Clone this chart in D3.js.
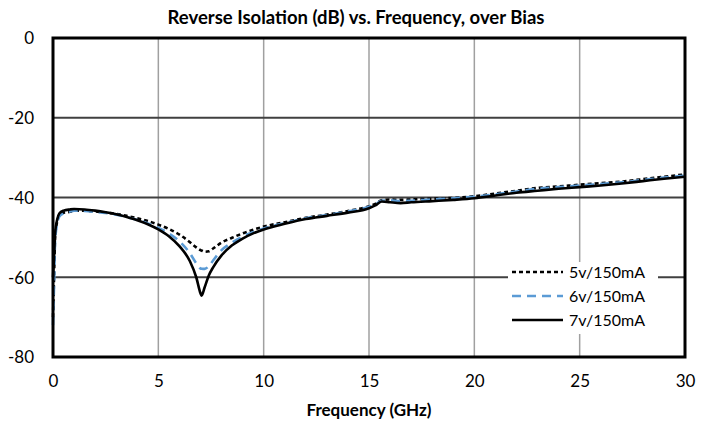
<!DOCTYPE html>
<html><head><meta charset="utf-8">
<script src="https://cdn.jsdelivr.net/npm/d3@7"></script>
<style>body{margin:0;background:#fff}svg{display:block;font-family:Lato,"Open Sans",sans-serif}</style>
</head><body><svg id="c" width="711" height="426"></svg>
<script>
const title = "Reverse Isolation (dB) vs. Frequency, over Bias";
const xTitle = "Frequency (GHz)";
const xTicks = [0,5,10,15,20,25,30];
const yTicks = [0,-20,-40,-60,-80];
const seriesNames = ["5v/150mA","6v/150mA","7v/150mA"];
const freq = [0,0.05,0.1,0.2,0.3,0.5,0.8,1,1.5,2,2.5,3,3.5,4,4.5,5,5.5,6,6.5,6.8,7,7.05,7.2,7.4,7.6,8,8.5,9,9.5,10,11,12,13,14,15,15.3,15.6,16,16.5,17,18,19,20,21,22,23,24,25,26,27,28,29,30];
const s5v = [-70,-60,-50,-46,-44.5,-43.8,-43.6,-43.3,-43.3,-43.5,-43.8,-44.1,-44.6,-45.2,-45.9,-46.8,-47.9,-49.3,-51.2,-52.5,-53.2,-53.3,-53.6,-53.5,-52.8,-51.3,-50.1,-49.0,-48.1,-47.3,-46.2,-45.1,-44.3,-43.4,-42.2,-41.6,-40.7,-40.5,-40.6,-40.5,-40.3,-40.1,-39.7,-39.0,-38.3,-37.6,-37.2,-36.8,-36.4,-36.0,-35.4,-34.8,-34.2];
const s6v = [-72,-62,-51,-46.5,-44.8,-44.0,-43.5,-43.3,-43.4,-43.6,-43.9,-44.3,-44.9,-45.6,-46.5,-47.6,-49.0,-51.0,-54.0,-56.5,-57.8,-57.85,-57.9,-57.2,-55.8,-53.2,-51.3,-49.8,-48.7,-47.8,-46.4,-45.2,-44.4,-43.5,-42.3,-41.7,-40.8,-40.7,-40.9,-40.8,-40.5,-40.2,-39.8,-39.2,-38.5,-37.8,-37.4,-37.0,-36.6,-36.2,-35.6,-35.0,-34.5];
const s7v = [-60,-55,-49,-45.5,-44.0,-43.3,-43.0,-42.9,-43.0,-43.3,-43.7,-44.2,-44.9,-45.7,-46.7,-48.0,-49.7,-52.2,-56.0,-60.0,-64.0,-64.6,-62.5,-59.5,-57.5,-54.5,-52.0,-50.3,-49.0,-48.0,-46.6,-45.4,-44.6,-43.8,-42.7,-42.0,-41.0,-41.2,-41.4,-41.2,-40.9,-40.6,-40.2,-39.5,-38.8,-38.3,-37.8,-37.4,-37.0,-36.5,-35.9,-35.3,-34.8];

const styles = [
  {color:"#000", dash:"4,3", w:2.6},
  {color:"#5B9BD5", dash:"9,6", w:2.6},
  {color:"#000", dash:null, w:2.6}
];
const seriesData = [s5v,s6v,s7v];

const svg = d3.select("#c");
const L=53, R=685, T=38, B=357;
const x = d3.scaleLinear().domain([0,30]).range([L,R]);
const y = d3.scaleLinear().domain([-80,0]).range([B,T]);

svg.append("g").selectAll("line").data(xTicks.slice(1,-1)).join("line")
  .attr("x1",d=>x(d)).attr("x2",d=>x(d)).attr("y1",T).attr("y2",B)
  .attr("stroke","#a0a0a0").attr("stroke-width",1.5);
svg.append("g").selectAll("line").data(yTicks.slice(1,-1)).join("line")
  .attr("x1",L).attr("x2",R).attr("y1",d=>y(d)).attr("y2",d=>y(d))
  .attr("stroke","#404040").attr("stroke-width",2);

const line = d3.line().x((d,i)=>x(freq[i])).y(d=>y(d)).curve(d3.curveMonotoneX);
seriesData.forEach((s,k)=>{
  svg.append("path").datum(s).attr("d",line).attr("fill","none")
    .attr("stroke",styles[k].color).attr("stroke-width",styles[k].w)
    .attr("stroke-dasharray",styles[k].dash).attr("stroke-linejoin","round");
});

svg.append("rect").attr("x",L).attr("y",T).attr("width",R-L).attr("height",B-T)
  .attr("fill","none").attr("stroke","#000").attr("stroke-width",3);

const xAxis = d3.axisBottom(x).tickValues(xTicks).tickSize(0).tickPadding(0);
const gx = svg.append("g").attr("transform",`translate(0,${B})`).call(xAxis);
gx.select(".domain").remove();
gx.selectAll("text").attr("font-size",17).attr("font-family","Lato,sans-serif").attr("fill","#000").attr("dy","1.75em");
const yAxis = d3.axisLeft(y).tickValues(yTicks).tickSize(0).tickPadding(0).tickFormat(d=>String(d));
const gy = svg.append("g").attr("transform",`translate(${L-19},0)`).call(yAxis);
gy.select(".domain").remove();
gy.selectAll("text").attr("font-size",17).attr("font-family","Lato,sans-serif").attr("fill","#000").attr("dy","0.35em");

svg.append("text").attr("x",356).attr("y",24).attr("text-anchor","middle")
  .attr("font-size",18.5).attr("font-weight","bold").text(title);
svg.append("text").attr("x",369).attr("y",416).attr("text-anchor","middle")
  .attr("font-size",17).attr("font-weight","bold").text(xTitle);

const lg = svg.append("g");
lg.append("rect").attr("x",508).attr("y",262).attr("width",150).attr("height",72).attr("fill","#fff");
seriesNames.forEach((n,k)=>{
  const yy = 272 + k*24;
  lg.append("line").attr("x1",512).attr("x2",563).attr("y1",yy).attr("y2",yy)
    .attr("stroke",styles[k].color).attr("stroke-width",styles[k].w).attr("stroke-dasharray",styles[k].dash);
  lg.append("text").attr("x",569).attr("y",yy).attr("dy","0.35em").attr("font-size",16).text(n);
});
</script></body></html>
